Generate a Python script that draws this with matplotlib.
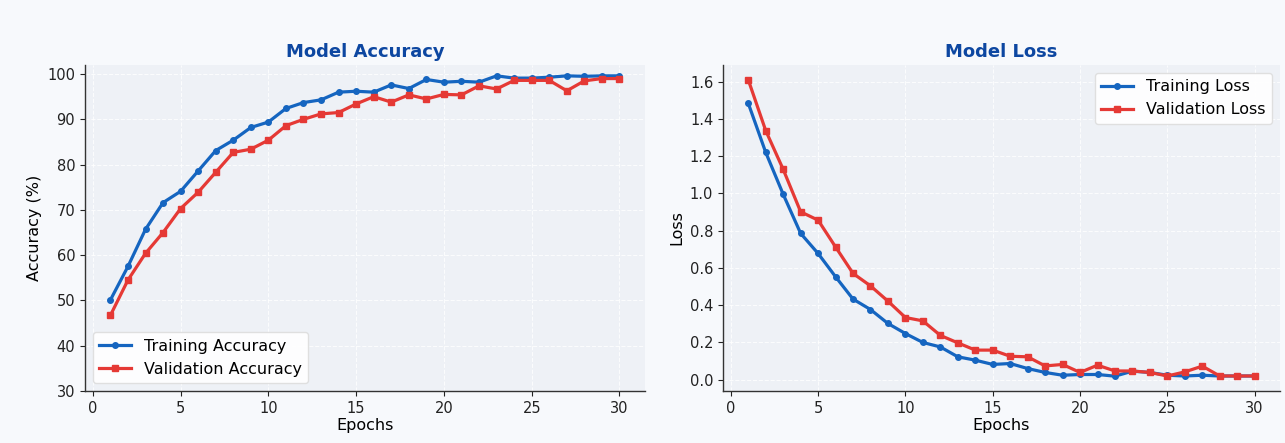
import matplotlib
matplotlib.use("Agg")
import matplotlib.pyplot as plt

epochs = list(range(1, 31))

train_acc = [50.1, 57.5, 65.7, 71.6, 74.1, 78.6, 83.1, 85.4, 88.2, 89.4,
             92.4, 93.7, 94.3, 96.0, 96.2, 96.0, 97.6, 96.8, 98.8, 98.2,
             98.4, 98.2, 99.6, 99.1, 99.1, 99.3, 99.6, 99.5, 99.6, 99.6]
val_acc = [46.7, 54.5, 60.4, 65.0, 70.3, 73.9, 78.3, 82.7, 83.4, 85.4,
           88.6, 90.0, 91.2, 91.5, 93.4, 95.0, 93.8, 95.4, 94.5, 95.5,
           95.4, 97.4, 96.7, 98.6, 98.6, 98.6, 96.3, 98.5, 99.0, 99.0]

train_loss = [1.484, 1.220, 0.995, 0.785, 0.677, 0.552, 0.432, 0.376, 0.301, 0.247,
              0.199, 0.175, 0.122, 0.104, 0.081, 0.086, 0.059, 0.038, 0.023, 0.027,
              0.027, 0.018, 0.045, 0.038, 0.023, 0.019, 0.023, 0.019, 0.019, 0.019]
val_loss = [1.610, 1.337, 1.129, 0.901, 0.856, 0.712, 0.570, 0.503, 0.421, 0.333,
            0.315, 0.237, 0.197, 0.158, 0.158, 0.125, 0.122, 0.073, 0.081, 0.038,
            0.077, 0.046, 0.046, 0.038, 0.019, 0.041, 0.072, 0.019, 0.019, 0.019]

BLUE = "#1565c0"
RED = "#e53935"
TITLE = "#0d47a1"
FIG_BG = "#f7f9fc"
AX_BG = "#eef1f6"

plt.rcParams["font.family"] = ["DejaVu Sans"]

fig = plt.figure(figsize=(12.85, 4.43), dpi=100, facecolor=FIG_BG)
ax1 = fig.add_axes([0.0661, 0.1174, 0.4358, 0.7359])
ax2 = fig.add_axes([0.5626, 0.1174, 0.4335, 0.7359])

def style(ax):
    ax.set_facecolor(AX_BG)
    ax.grid(True, linestyle="--", color="white", alpha=0.8, linewidth=0.8)
    ax.set_axisbelow(True)
    for s in ("top", "right"):
        ax.spines[s].set_visible(False)
    for s in ("left", "bottom"):
        ax.spines[s].set_color("#333333")
        ax.spines[s].set_linewidth(1.0)
    ax.tick_params(labelsize=10.5, colors="#222222")

ax1.plot(epochs, train_acc, color=BLUE, marker="o", markersize=4, linewidth=2.3, label="Training Accuracy")
ax1.plot(epochs, val_acc, color=RED, marker="s", markersize=4, linewidth=2.3, label="Validation Accuracy")
style(ax1)
ax1.set_ylim(30, 102)
ax1.set_xticks([0, 5, 10, 15, 20, 25, 30])
ax1.set_title("Model Accuracy", fontsize=13, fontweight="bold", color=TITLE)
ax1.set_xlabel("Epochs", fontsize=11.5, labelpad=2)
ax1.set_ylabel("Accuracy (%)", fontsize=11.5)
ax1.legend(loc="lower left", fontsize=11.5, frameon=True, facecolor="white", edgecolor="#dddddd", framealpha=0.9)

ax2.plot(epochs, train_loss, color=BLUE, marker="o", markersize=4, linewidth=2.3, label="Training Loss")
ax2.plot(epochs, val_loss, color=RED, marker="s", markersize=4, linewidth=2.3, label="Validation Loss")
style(ax2)
ax2.set_xticks([0, 5, 10, 15, 20, 25, 30])
ax2.set_yticks([0.0, 0.2, 0.4, 0.6, 0.8, 1.0, 1.2, 1.4, 1.6])
ax2.set_title("Model Loss", fontsize=13, fontweight="bold", color=TITLE)
ax2.set_xlabel("Epochs", fontsize=11.5, labelpad=2)
ax2.set_ylabel("Loss", fontsize=11.5)
ax2.legend(loc="upper right", fontsize=11.5, frameon=True, facecolor="white", edgecolor="#dddddd", framealpha=0.9)

fig.savefig("out.png", dpi=100, facecolor=FIG_BG)
